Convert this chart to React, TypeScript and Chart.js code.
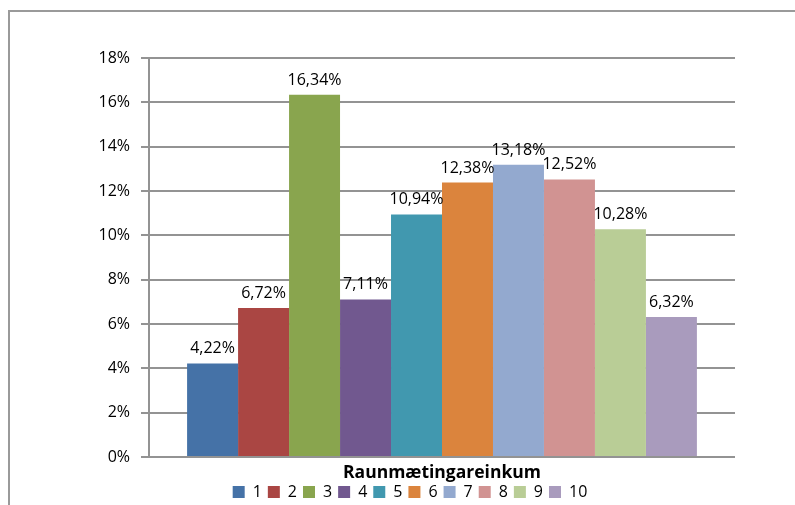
import React, { useEffect, useRef } from 'react';
import { Chart, registerables } from 'chart.js';

Chart.register(...registerables);

const categories = [''];
const seriesNames = ['1', '2', '3', '4', '5', '6', '7', '8', '9', '10'];
const seriesValues = [4.22, 6.72, 16.34, 7.11, 10.94, 12.38, 13.18, 12.52, 10.28, 6.32];
const seriesColors = [
  '#4572A7', '#AA4643', '#89A54E', '#71588F', '#4198AF',
  '#DB843D', '#93A9CF', '#D19392', '#B9CD96', '#A99BBD',
];
const yMin = 0;
const yMax = 18;
const yStep = 2;
const axisTitle = 'Raunmætingareinkum';

const FONT = '"Open Sans", "Noto Sans", sans-serif';
const GRID = '#939393';

const barLabels = {
  id: 'barLabels',
  afterDatasetsDraw(chart: any) {
    const ctx = chart.ctx;
    ctx.save();
    ctx.font = `16px ${FONT}`;
    ctx.fillStyle = '#000';
    ctx.textAlign = 'center';
    ctx.textBaseline = 'alphabetic';
    chart.data.datasets.forEach((ds: any, i: number) => {
      const meta = chart.getDatasetMeta(i);
      meta.data.forEach((el: any, j: number) => {
        const v = ds.data[j] as number;
        ctx.fillText(v.toFixed(2).replace('.', ',') + '%', el.x, el.y - 10);
      });
    });
    ctx.restore();
  },
};

export default function App() {
  const ref = useRef<HTMLCanvasElement | null>(null);

  useEffect(() => {
    if (!ref.current) return;
    const chart = new Chart(ref.current, {
      type: 'bar',
      data: {
        labels: categories,
        datasets: seriesNames.map((name, i) => ({
          label: name,
          data: [seriesValues[i]],
          backgroundColor: seriesColors[i],
          borderWidth: 0,
          categoryPercentage: 0.87,
          barPercentage: 1,
        })),
      },
      options: {
        animation: false,
        responsive: false,
        devicePixelRatio: 1,
        layout: { padding: { left: 25, right: 0, top: 58, bottom: 0 } },
        plugins: {
          tooltip: { enabled: false },
          legend: {
            position: 'bottom',
            labels: {
              boxWidth: 12,
              boxHeight: 12,
              padding: 6,
              color: '#000',
              font: { family: FONT, size: 16 },
            },
          },
        },
        scales: {
          x: {
            ticks: { display: false },
            grid: { display: false, drawTicks: false },
            border: { display: false },
            title: {
              display: true,
              text: axisTitle,
              color: '#000',
              font: { family: FONT, size: 17.5, weight: 'bold' },
              padding: { top: 6, bottom: -6 },
            },
          },
          y: {
            min: yMin,
            max: yMax,
            ticks: {
              stepSize: yStep,
              padding: 11,
              color: '#000',
              font: { family: FONT, size: 16 },
              callback: (v: any) => `${v}%`,
            },
            grid: { color: GRID, lineWidth: 2, tickLength: 8, drawTicks: true },
            border: { display: true, color: GRID, width: 2 },
            afterFit: (scale: any) => {
              scale.width = 124;
            },
          },
          y2: {
            position: 'right',
            display: true,
            ticks: { display: false },
            grid: { display: false, drawTicks: false },
            border: { display: false },
            afterFit: (scale: any) => {
              scale.width = 60;
            },
          },
        },
      } as any,
      plugins: [barLabels],
    });
    return () => chart.destroy();
  }, []);

  return (
    <>
      <div
        style={{
          position: 'fixed',
          left: 8,
          top: 10,
          width: 900,
          height: 600,
          borderLeft: '2px solid #9a9a9a',
          borderTop: '2px solid #9a9a9a',
          boxSizing: 'border-box',
        }}
      />
      <div style={{ position: 'fixed', left: 0, top: 0, width: 795, height: 510 }}>
        <canvas ref={ref} width={795} height={510} style={{ display: 'block' }} />
      </div>
    </>
  );
}
